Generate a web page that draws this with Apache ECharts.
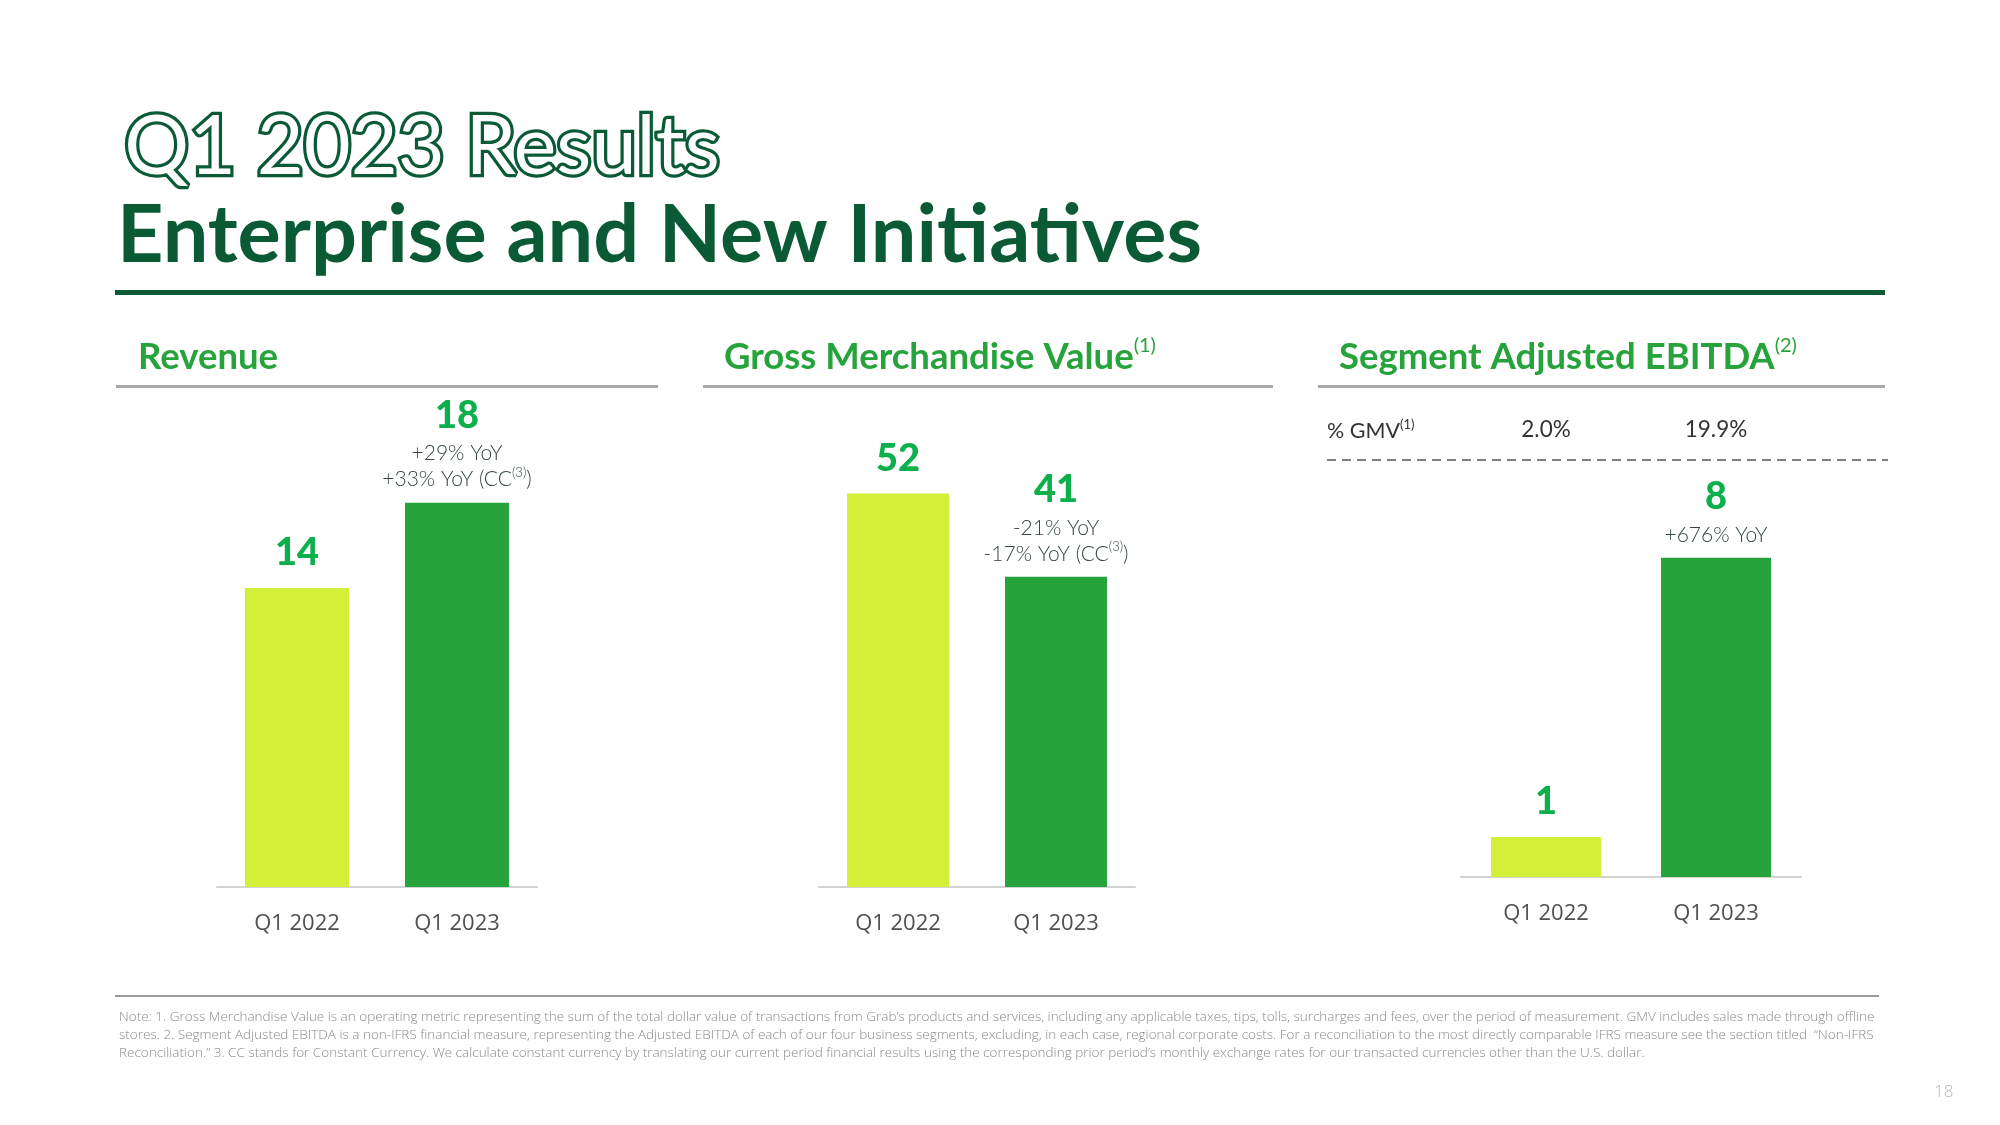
<!DOCTYPE html>
<html><head><meta charset="utf-8">
<script src="https://cdn.jsdelivr.net/npm/echarts@6/dist/echarts.min.js"></script>
<style>html,body{margin:0;padding:0;background:#fff}#c{width:2000px;height:1125px}</style>
</head><body><div id="c"></div>
<script>
// ---- data ----
const categories = ['Q1 2022', 'Q1 2023'];
const revenueValues = [14, 18];
const gmvValues = [52, 41];
const ebitdaValues = [1, 8];
const revenueNotes = [[], ['+29% YoY', '+33% YoY (CC^(3)^)']];
const gmvNotes = [[], ['-21% YoY', '-17% YoY (CC^(3)^)']];
const ebitdaNotes = [[], ['+676% YoY']];
const ebitdaPctGmv = ['2.0%', '19.9%'];
const panelTitles = ['Revenue', 'Gross Merchandise Value^(1)^', 'Segment Adjusted EBITDA^(2)^'];
const footnoteLines = [
  "Note: 1. Gross Merchandise Value is an operating metric representing the sum of the total dollar value of transactions from Grab\u2019s products and services, including any applicable taxes, tips, tolls, surcharges and fees, over the period of measurement. GMV includes sales made through offline",
  "stores. 2. Segment Adjusted EBITDA is a non-IFRS financial measure, representing the Adjusted EBITDA of each of our four business segments, excluding, in each case, regional corporate costs. For a reconciliation to the most directly comparable IFRS measure see the section titled  \u201cNon-IFRS",
  "Reconciliation.\u201d 3. CC stands for Constant Currency. We calculate constant currency by translating our current period financial results using the corresponding prior period\u2019s monthly exchange rates for our transacted currencies other than the U.S. dollar."
];

// ---- style ----
const barColors = ['#d4ef37', '#27a33b'];
const darkGreen = '#0a5a36';
const headGreen = '#27a33b';
const valGreen = '#0bb04c';

function supRich(str, base, sup) {
  return str.split('^').map((p, i) => p ? '{' + (i % 2 ? sup : base) + '|' + p + '}' : '').join('');
}

const labelRich = {
  v: { fontFamily: 'Lato', fontWeight: 900, fontSize: 38, color: valGreen, lineHeight: 50, align: 'center' },
  y: { fontFamily: 'Lato', fontWeight: 300, fontSize: 21, color: '#34463f', lineHeight: 26 },
  s: { fontFamily: 'Lato', fontWeight: 300, fontSize: 13, color: '#34463f', lineHeight: 26, verticalAlign: 'top', padding: [0, 0, 8, 0] }
};

function barSeries(idx, values, notes, barWidth) {
  return {
    type: 'bar', xAxisIndex: idx, yAxisIndex: idx, barWidth: barWidth, silent: true,
    data: values.map((v, i) => ({
      value: v,
      itemStyle: { color: barColors[i] },
      label: {
        show: true, position: 'top', distance: 10, align: 'center',
        formatter: ['{v|' + v + '}'].concat(notes[i].map(n => supRich(n, 'y', 's'))).join('\n'),
        rich: labelRich
      }
    }))
  };
}

const grids = [
  { left: 217, width: 320, top: 460, bottom: 238 },
  { left: 819, width: 316, top: 433, bottom: 238 },
  { left: 1461, width: 340, top: 478, bottom: 248 }
];
const yMax = [20, 60, 10];

const xAxes = grids.map((g, i) => ({
  type: 'category', gridIndex: i, data: categories,
  axisLine: { lineStyle: { color: '#d2d2d2', width: 2 } },
  axisTick: { show: false },
  axisLabel: { color: '#505050', fontFamily: 'Open Sans', fontSize: 22, margin: 26 }
}));
xAxes.push({
  type: 'category', gridIndex: 2, position: 'top', data: ebitdaPctGmv,
  axisLine: { show: false }, axisTick: { show: false },
  axisLabel: { color: '#333', fontFamily: 'Lato', fontSize: 22.5, margin: 37 }
});
const yAxes = grids.map((g, i) => ({
  type: 'value', gridIndex: i, min: 0, max: yMax[i], show: false, splitLine: { show: false }
}));

const headerX = [138, 724, 1339];
const ruleSpans = [[116, 658], [703, 1273], [1318, 1885]];
const graphics = [
  { type: 'text', left: 121, top: 104, style: { text: 'Q1 2023 Results', font: '400 81px Lato', fill: '#ffffff', stroke: darkGreen, lineWidth: 6.5 } },
  { type: 'text', left: 117, top: 195, style: { text: 'Enterprise and New Initiatives', font: '700 81px Lato', fill: darkGreen } },
  { type: 'rect', shape: { x: 115, y: 290, width: 1770, height: 5 }, style: { fill: darkGreen } },
  { type: 'rect', shape: { x: 115, y: 995, width: 1764, height: 2 }, style: { fill: '#9a9a9a' } },
  { type: 'line', shape: { x1: 1327, y1: 460, x2: 1888, y2: 460 }, style: { stroke: '#555', lineWidth: 1.5, lineDash: [9, 6] } },
  { type: 'text', x: 1327, y: 431, style: { text: supRich('% GMV^(1)^', 'a', 'b'), verticalAlign: 'middle',
      rich: { a: { font: '400 21.5px Lato', fill: '#333', lineHeight: 26 }, b: { font: '400 13px Lato', fill: '#333', lineHeight: 26, verticalAlign: 'top' } } } },
  { type: 'text', x: 1934, y: 1092, style: { text: '18', font: '300 17px "Open Sans"', fill: '#b8b8b8', verticalAlign: 'middle' } }
];
panelTitles.forEach((t, i) => {
  graphics.push({ type: 'text', x: headerX[i], y: 357, style: { text: supRich(t, 'h', 'hs'), verticalAlign: 'middle',
    rich: { h: { font: '700 36.5px Lato', fill: headGreen, lineHeight: 42 }, hs: { font: '400 20px Lato', fill: headGreen, lineHeight: 42, verticalAlign: 'top' } } } });
  graphics.push({ type: 'rect', shape: { x: ruleSpans[i][0], y: 385, width: ruleSpans[i][1] - ruleSpans[i][0], height: 3 }, style: { fill: '#a8a8a8' } });
});
footnoteLines.forEach((l, i) => {
  graphics.push({ type: 'text', x: 119, y: 1017 + i * 18, style: { text: l, font: '300 13.5px "Open Sans"', fill: '#8a8a8a', verticalAlign: 'middle' } });
});

const chart = echarts.init(document.getElementById('c'), null, { renderer: 'canvas' });
chart.setOption({
  animation: false,
  backgroundColor: '#ffffff',
  grid: grids,
  xAxis: xAxes,
  yAxis: yAxes,
  series: [
    barSeries(0, revenueValues, revenueNotes, 104),
    barSeries(1, gmvValues, gmvNotes, 102),
    barSeries(2, ebitdaValues, ebitdaNotes, 110)
  ],
  graphic: graphics
});
</script></body></html>
